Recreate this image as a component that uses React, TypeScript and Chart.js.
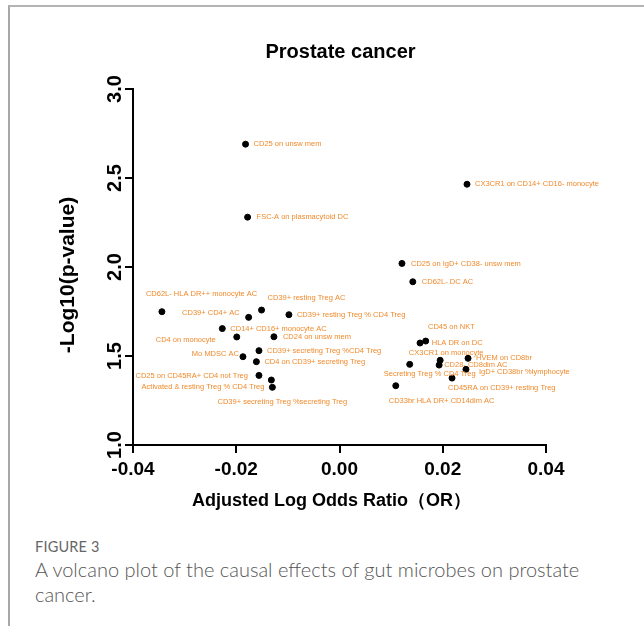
import React, { useEffect, useRef } from "react";
import { Chart, registerables } from "chart.js";

Chart.register(...registerables);

const pointNames: string[] = [
  "CD25 on unsw mem",
  "FSC-A on plasmacytoid DC",
  "CX3CR1 on CD14+ CD16- monocyte",
  "CD25 on IgD+ CD38- unsw mem",
  "CD62L- DC AC",
  "CD62L- HLA DR++ monocyte AC",
  "CD39+ CD4+ AC",
  "CD39+ resting Treg AC",
  "CD39+ resting Treg % CD4 Treg",
  "CD14+ CD16+ monocyte AC",
  "CD4 on monocyte",
  "CD24 on unsw mem",
  "Mo MDSC AC",
  "CD39+ secreting Treg %CD4 Treg",
  "CD4 on CD39+ secreting Treg",
  "CD25 on CD45RA+ CD4 not Treg",
  "CD39+ secreting Treg %secreting Treg",
  "Activated & resting Treg % CD4 Treg",
  "CD45 on NKT",
  "HLA DR on DC",
  "CX3CR1 on monocyte",
  "CD28- CD8dim AC",
  "HVEM on CD8br",
  "IgD+ CD38br %lymphocyte",
  "Secreting Treg % CD4 Treg",
  "CD45RA on CD39+ resting Treg",
  "CD33br HLA DR+ CD14dim AC",
];

const logOdds: number[] = [
  -0.0182, -0.0178, 0.0247, 0.0121, 0.0142, -0.0344, -0.0176, -0.0151, -0.0098,
  -0.0227, -0.0199, -0.0127, -0.0187, -0.0156, -0.0161, -0.0156, -0.0132, -0.013,
  0.0156, 0.0167, 0.0195, 0.0193, 0.0249, 0.0245, 0.0136, 0.0218, 0.0109,
];

const negLogP: number[] = [
  2.69, 2.28, 2.465, 2.02, 1.917, 1.749, 1.717, 1.758, 1.732,
  1.654, 1.607, 1.608, 1.496, 1.53, 1.468, 1.391, 1.365, 1.324,
  1.573, 1.584, 1.476, 1.449, 1.487, 1.425, 1.453, 1.376, 1.333,
];

const xTickValues: number[] = [-0.04, -0.02, 0.0, 0.02, 0.04];
const yTickValues: number[] = [1.0, 1.5, 2.0, 2.5, 3.0];

const chartTitle = "Prostate cancer";
const xTitle = "Adjusted Log Odds Ratio（OR）";
const yTitle = "-Log10(p-value)";
const figureLabel = "FIGURE 3";
const figureCaption = "A volcano plot of the causal effects of gut microbes on prostate cancer.";

// label placement relative to each point (layout only): [dx, dy, align]
const labelOffsets: [number, number, CanvasTextAlign][] = [
  [8, 0, "left"], [9, 0, "left"], [8, 0, "left"], [9, 0, "left"], [9, 0, "left"],
  [-16, -18, "left"], [-9, -4, "right"], [6, -12, "left"], [8, 0, "left"],
  [8, 0, "left"], [-21, 3, "right"], [9, 0, "left"], [-4, -3, "right"],
  [8, 0, "left"], [8, 0, "left"], [-11, 1, "right"], [11, 22, "center"],
  [-8, 0, "right"], [8, -16, "left"], [6, 2, "left"], [6, -7, "center"],
  [5, 0, "left"], [8, 0, "left"], [13, 3, "left"], [20, 10, "center"],
  [-4, 10, "left"], [-7, 15, "left"],
];

const ORANGE = "#F08A2C";
const FONT = '"Liberation Sans", Arial, sans-serif';

const annotPlugin = {
  id: "annot",
  afterDatasetsDraw(chart: any) {
    const ctx = chart.ctx as CanvasRenderingContext2D;
    const meta = chart.getDatasetMeta(0);
    ctx.save();
    ctx.font = `7.5px ${FONT}`;
    ctx.fillStyle = ORANGE;
    ctx.textBaseline = "middle";
    meta.data.forEach((el: any, i: number) => {
      const [dx, dy, align] = labelOffsets[i];
      ctx.textAlign = align;
      ctx.fillText(pointNames[i], el.x + dx, el.y + dy);
    });

    const ys = chart.scales.y;
    const xs = chart.scales.x;
    const area = chart.chartArea;
    ctx.fillStyle = "#000";
    ctx.font = `bold 20px ${FONT}`;
    ctx.textAlign = "center";
    ctx.textBaseline = "middle";
    yTickValues.forEach((v) => {
      const py = ys.getPixelForValue(v);
      ctx.save();
      ctx.translate(area.left - 18, py);
      ctx.rotate(-Math.PI / 2);
      ctx.fillText(v.toFixed(1), 0, 0);
      ctx.restore();
    });

    // chart title
    ctx.font = `bold 20px ${FONT}`;
    ctx.fillText(chartTitle, (xs.left + xs.right) / 2 + 1, area.top - 37);

    // x title
    ctx.font = `bold 18px ${FONT}`;
    ctx.fillText(xTitle, (xs.left + xs.right) / 2 - 8, area.bottom + 56);

    // y title
    ctx.save();
    ctx.font = `bold 21px ${FONT}`;
    ctx.translate(area.left - 65, (area.top + area.bottom) / 2 + 8);
    ctx.rotate(-Math.PI / 2);
    ctx.fillText(yTitle, 0, 0);
    ctx.restore();
    ctx.restore();
  },
};

export default function App() {
  const canvasRef = useRef<HTMLCanvasElement | null>(null);

  useEffect(() => {
    if (!canvasRef.current) return;
    const chart = new Chart(canvasRef.current, {
      type: "scatter",
      data: {
        datasets: [
          {
            data: logOdds.map((x, i) => ({ x, y: negLogP[i] })),
            backgroundColor: "#000",
            borderColor: "#000",
            pointRadius: 3,
            pointHoverRadius: 3,
            clip: false as any,
          },
        ],
      },
      options: {
        responsive: false,
        animation: false,
        layout: { padding: { top: 81, right: 98, left: 0, bottom: 0 } },
        plugins: {
          legend: { display: false },
          tooltip: { enabled: false },
          title: { display: false },
        },
        scales: {
          x: {
            type: "linear",
            min: -0.04,
            max: 0.04,
            afterBuildTicks: (scale: any) => {
              scale.ticks = xTickValues.map((v) => ({ value: v }));
            },
            afterFit: (scale: any) => {
              scale.height = 83;
            },
            ticks: {
              color: "#000",
              font: { family: FONT, size: 19, weight: "bold" },
              padding: 5,
              maxRotation: 0,
              callback: (v: any) => Number(v).toFixed(2),
            },
            grid: {
              drawOnChartArea: false,
              drawTicks: true,
              tickLength: 8,
              color: "#000",
              lineWidth: 2,
            },
            border: { color: "#000", width: 2 },
          },
          y: {
            type: "linear",
            min: 1,
            max: 3,
            afterBuildTicks: (scale: any) => {
              scale.ticks = yTickValues.map((v) => ({ value: v }));
            },
            afterFit: (scale: any) => {
              scale.width = 124;
            },
            ticks: { display: false },
            grid: {
              drawOnChartArea: false,
              drawTicks: true,
              tickLength: 8,
              color: "#000",
              lineWidth: 2,
            },
            border: { color: "#000", width: 2 },
          },
        },
      },
      plugins: [annotPlugin],
    });
    return () => chart.destroy();
  }, []);

  return (
    <div style={{ position: "absolute", left: 0, top: 0, width: 644, height: 626, overflow: "hidden", background: "#fff" }}>
      <div
        style={{
          position: "absolute",
          left: 8,
          top: 5,
          right: 0,
          bottom: 0,
          borderTop: "2px solid #b4b4b4",
          borderLeft: "2px solid #a8a8a8",
        }}
      />
      <canvas
        ref={canvasRef}
        width={635}
        height={520}
        style={{ position: "absolute", left: 9, top: 8, width: 635, height: 520 }}
      />
      <div
        style={{
          position: "absolute",
          left: 35,
          top: 538,
          fontFamily: "Lato, 'Open Sans', sans-serif",
          fontSize: 14.5,
          color: "#666",
          lineHeight: "18px",
          letterSpacing: 0.2,
        }}
      >
        {figureLabel}
      </div>
      <div
        style={{
          position: "absolute",
          left: 35,
          top: 557,
          width: 580,
          fontFamily: "Lato, 'Open Sans', sans-serif",
          fontSize: 20,
          fontWeight: 300,
          color: "#555",
          lineHeight: "25px",
        }}
      >
        {figureCaption}
      </div>
    </div>
  );
}
